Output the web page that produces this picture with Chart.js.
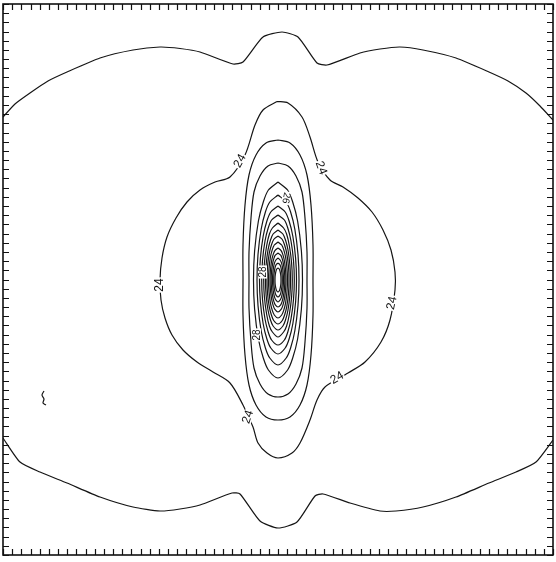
<!DOCTYPE html>
<html><head><meta charset="utf-8">
<script src="https://cdn.jsdelivr.net/npm/chart.js@4/dist/chart.umd.min.js"></script>
<style>html,body{margin:0;padding:0;background:#fff}canvas{display:block}</style>
</head><body>
<canvas id="c" width="556" height="562"></canvas>
<script>
// Axis range (arbitrary units, origin at the centre of the pattern) and tick count
const xRange = [-275, 275];
const yRange = [-275, 276];
const tickIntervals = 60;

// Contour polylines, flat [x0,y0,x1,y1,...]
const outerTop = [-275,163, -263,176, -248,187, -230,199, -211,208, -178,222, -145,230, -118,233, -98,231.5, -78,228, -45,216, -35,218, -15,243, 4,248, 20,243, 39,217, 49,215, 82,227, 102,231, 122,233, 145,230, 178,222, 211,208, 230,199, 248,187, 262,174, 275,160];
const outerBottom = [-275,-158, -258,-182, -238,-192, -211,-203, -178,-217, -145,-227, -118,-231, -98,-229, -78,-225, -46,-213, -38,-214, -18,-241, 0,-248, 19,-242, 37,-216, 45,-214, 72,-223, 102,-231, 118,-231, 145,-227, 178,-217, 211,-203, 238,-192, 258,-182, 275,-160];
const contour24 = [-1,178.5, 10,177, 24,163, 32,143, 40,118, 52,100, 65,93, 80,82, 94,68, 105,50, 113,30, 117,8, 117,-10, 112,-40, 103,-62, 87,-82, 70,-93, 47,-107, 39,-120, 32,-140, 22,-163, 14,-173, 0,-178, -11,-173, -20,-163, -25,-147, -35,-125, -48,-103, -65,-92, -81,-82, -95,-70, -106,-55, -113,-38, -117,-20, -118,0, -116,22, -111,43, -102,62, -91,78, -78,90, -63,98, -48,103, -33,125, -23,155, -15,170, -1,178.5];
const ringA = [0,140, 12,137, 22,125, 29,105, 33,75, 35,35, 35,0, 35,-35, 33,-75, 29,-105, 22,-125, 12,-137, 0,-140, -12,-137, -22,-125, -29,-105, -33,-75, -35,-35, -35,0, -35,35, -33,75, -29,105, -22,125, -12,137, 0,140];
const ringB = [0,117, 10,114, 18,104, 24,88, 27,62, 29,28, 29,0, 29,-28, 27,-62, 24,-88, 18,-104, 10,-114, 0,-117, -10,-114, -18,-104, -24,-88, -27,-62, -29,-28, -29,0, -29,28, -27,62, -24,88, -18,104, -10,114, 0,117];
const ringC = [0,98, 9.6,90, 14.7,78, 19.6,59, 23.4,29, 24.5,0, 23.4,-29, 19.6,-59, 14.7,-78, 9.6,-90, 0,-98, -9.6,-90, -14.7,-78, -19.6,-59, -23.4,-29, -24.5,0, -23.4,29, -19.6,59, -14.7,78, -9.6,90, 0,98];
const ringD = [0,85, 8.2,78, 12.6,68, 16.8,51, 20,25.5, 21,0, 20,-25.5, 16.8,-51, 12.6,-68, 8.2,-78, 0,-85, -8.2,-78, -12.6,-68, -16.8,-51, -20,-25.5, -21,0, -20,25.5, -16.8,51, -12.6,68, -8.2,78, 0,85];
const ringE = [0,74, 7.2,68, 11.1,59, 14.8,44, 17.6,22, 18.5,0, 17.6,-22, 14.8,-44, 11.1,-59, 7.2,-68, 0,-74, -7.2,-68, -11.1,-59, -14.8,-44, -17.6,-22, -18.5,0, -17.6,22, -14.8,44, -11.1,59, -7.2,68, 0,74];
const ringF = [0,65, 6.4,60, 9.8,52, 13,39, 15.5,19.5, 16.3,0, 15.5,-19.5, 13,-39, 9.8,-52, 6.4,-60, 0,-65, -6.4,-60, -9.8,-52, -13,-39, -15.5,-19.5, -16.3,0, -15.5,19.5, -13,39, -9.8,52, -6.4,60, 0,65];
const ringG = [0,57, 5.6,52, 8.6,46, 11.4,34, 13.6,17, 14.3,0, 13.6,-17, 11.4,-34, 8.6,-46, 5.6,-52, 0,-57, -5.6,-52, -8.6,-46, -11.4,-34, -13.6,-17, -14.3,0, -13.6,17, -11.4,34, -8.6,46, -5.6,52, 0,57];
const ringH = [0,50, 4.9,46, 7.5,40, 10,30, 11.9,15, 12.5,0, 11.9,-15, 10,-30, 7.5,-40, 4.9,-46, 0,-50, -4.9,-46, -7.5,-40, -10,-30, -11.9,-15, -12.5,0, -11.9,15, -10,30, -7.5,40, -4.9,46, 0,50];
const ringI = [0,44, 4.3,40.5, 6.6,35, 8.8,26.4, 10.5,13.2, 11,0, 10.5,-13.2, 8.8,-26.4, 6.6,-35, 4.3,-40.5, 0,-44, -4.3,-40.5, -6.6,-35, -8.8,-26.4, -10.5,-13.2, -11,0, -10.5,13.2, -8.8,26.4, -6.6,35, -4.3,40.5, 0,44];
const ringJ = [0,38, 3.7,35, 5.7,30.4, 7.6,22.8, 9,11.4, 9.5,0, 9,-11.4, 7.6,-22.8, 5.7,-30.4, 3.7,-35, 0,-38, -3.7,-35, -5.7,-30.4, -7.6,-22.8, -9,-11.4, -9.5,0, -9,11.4, -7.6,22.8, -5.7,30.4, -3.7,35, 0,38];
const ringK = [0,32, 3.1,29.4, 4.8,25.6, 6.4,19.2, 7.6,9.6, 8,0, 7.6,-9.6, 6.4,-19.2, 4.8,-25.6, 3.1,-29.4, 0,-32, -3.1,-29.4, -4.8,-25.6, -6.4,-19.2, -7.6,-9.6, -8,0, -7.6,9.6, -6.4,19.2, -4.8,25.6, -3.1,29.4, 0,32];
const ringL = [0,27, 2.7,24.8, 4.1,21.6, 5.4,16.2, 6.5,8.1, 6.8,0, 6.5,-8.1, 5.4,-16.2, 4.1,-21.6, 2.7,-24.8, 0,-27, -2.7,-24.8, -4.1,-21.6, -5.4,-16.2, -6.5,-8.1, -6.8,0, -6.5,8.1, -5.4,16.2, -4.1,21.6, -2.7,24.8, 0,27];
const ringM = [0,22, 2.1,20, 3.3,17.6, 4.4,13.2, 5.2,6.6, 5.5,0, 5.2,-6.6, 4.4,-13.2, 3.3,-17.6, 2.1,-20, 0,-22, -2.1,-20, -3.3,-17.6, -4.4,-13.2, -5.2,-6.6, -5.5,0, -5.2,6.6, -4.4,13.2, -3.3,17.6, -2.1,20, 0,22];
const ringN = [0,17, 1.7,15.6, 2.6,13.6, 3.4,10.2, 4.1,5.1, 4.3,0, 4.1,-5.1, 3.4,-10.2, 2.6,-13.6, 1.7,-15.6, 0,-17, -1.7,-15.6, -2.6,-13.6, -3.4,-10.2, -4.1,-5.1, -4.3,0, -4.1,5.1, -3.4,10.2, -2.6,13.6, -1.7,15.6, 0,17];
const ringO = [0,12, 1.2,11, 1.8,9.6, 2.4,7.2, 2.9,3.6, 3,0, 2.9,-3.6, 2.4,-7.2, 1.8,-9.6, 1.2,-11, 0,-12, -1.2,-11, -1.8,-9.6, -2.4,-7.2, -2.9,-3.6, -3,0, -2.9,3.6, -2.4,7.2, -1.8,9.6, -1.2,11, 0,12];
const squiggle = [-234,-111, -236,-115, -234,-119, -235,-123, -232,-125];

// Contour labels: text, position, rotation (degrees)
const labelText = ["24", "24", "24", "24", "24", "24", "26", "28", "28"];
const labelX = [-38, 43, -118, 114, 59, -30, 8, -15, -21];
const labelY = [119, 112, -5, -23, -98, -137, 82, 8, -55];
const labelRot = [-62, 70, -90, -78, -30, -72, 100, -90, -90];
const labelSize = [12, 12, 12, 12, 12, 12, 10, 10, 10];

const contours = [outerTop, outerBottom, contour24, ringA, ringB, ringC, ringD, ringE, ringF, ringG, ringH, ringI, ringJ, ringK, ringL, ringM, ringN, ringO, squiggle];

function toPoints(flat) {
  const pts = [];
  for (let i = 0; i < flat.length; i += 2) pts.push({x: flat[i], y: flat[i + 1]});
  return pts;
}

const datasets = contours.map((c, i) => ({
  data: toPoints(c),
  showLine: true,
  pointRadius: 0,
  borderColor: '#151515',
  borderWidth: 1.2,
  tension: i < 2 ? 0.2 : 0.3,
  fill: false
}));

const xTickVals = [], yTickVals = [];
for (let i = 0; i <= tickIntervals; i++) {
  xTickVals.push(xRange[0] + i * (xRange[1] - xRange[0]) / tickIntervals);
  yTickVals.push(yRange[0] + i * (yRange[1] - yRange[0]) / tickIntervals);
}

const decor = {
  id: 'decor',
  afterDatasetsDraw(chart) {
    const ctx = chart.ctx;
    const {left, right, top, bottom} = chart.chartArea;
    const xs = chart.scales.x, ys = chart.scales.y;
    ctx.save();
    ctx.textAlign = 'center';
    ctx.textBaseline = 'middle';
    for (let i = 0; i < labelText.length; i++) {
      const px = xs.getPixelForValue(labelX[i]);
      const py = ys.getPixelForValue(labelY[i]);
      ctx.save();
      ctx.translate(px, py);
      ctx.rotate(labelRot[i] * Math.PI / 180);
      ctx.font = labelSize[i] + 'px "Liberation Sans", Arial, sans-serif';
      const w = ctx.measureText(labelText[i]).width;
      const h = labelSize[i] * 0.8;
      ctx.fillStyle = '#fff';
      ctx.fillRect(-w / 2 - 1, -h / 2, w + 2, h);
      ctx.fillStyle = '#111';
      ctx.fillText(labelText[i], 0, 0);
      ctx.restore();
    }
    ctx.strokeStyle = '#111';
    ctx.lineWidth = 1.2;
    ctx.beginPath();
    xTickVals.forEach(v => {
      const p = Math.round(xs.getPixelForValue(v)) + 0.5;
      ctx.moveTo(p, bottom); ctx.lineTo(p, bottom - 6);
      ctx.moveTo(p, top); ctx.lineTo(p, top + 6);
    });
    yTickVals.forEach(v => {
      const p = Math.round(ys.getPixelForValue(v)) + 0.5;
      ctx.moveTo(left, p); ctx.lineTo(left + 6, p);
      ctx.moveTo(right, p); ctx.lineTo(right - 6, p);
    });
    ctx.stroke();
    ctx.lineWidth = 1.6;
    ctx.strokeRect(left, top, right - left, bottom - top);
    ctx.restore();
  }
};

new Chart(document.getElementById('c'), {
  type: 'scatter',
  data: {datasets},
  options: {
    responsive: false,
    animation: false,
    layout: {padding: {left: 3, right: 3, top: 4, bottom: 7}},
    plugins: {legend: {display: false}, tooltip: {enabled: false}},
    scales: {
      x: {type: 'linear', min: xRange[0], max: xRange[1], display: false},
      y: {type: 'linear', min: yRange[0], max: yRange[1], display: false}
    }
  },
  plugins: [decor]
});
</script>
</body></html>
